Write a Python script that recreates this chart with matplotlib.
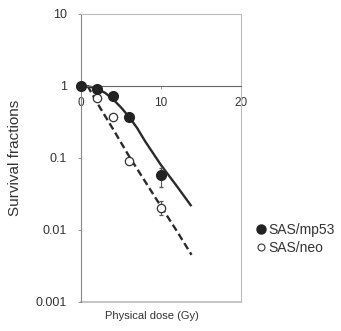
import numpy as np
import matplotlib
matplotlib.use('Agg')
import matplotlib.pyplot as plt
from matplotlib.lines import Line2D

plt.rcParams['font.family'] = ['Liberation Sans', 'DejaVu Sans']

# measured survival fractions
dose_mp53 = [0, 2, 4, 6, 10]
sf_mp53 = [1.0, 0.90, 0.73, 0.37, 0.057]
err_lo_mp53 = [0.0, 0.0, 0.0, 0.0, 0.017]
err_hi_mp53 = [0.0, 0.0, 0.0, 0.0, 0.015]

dose_neo = [0, 2, 4, 6, 10]
sf_neo = [1.0, 0.67, 0.37, 0.090, 0.020]
err_lo_neo = [0.0, 0.03, 0.02, 0.0, 0.004]
err_hi_neo = [0.0, 0.03, 0.02, 0.0, 0.005]

# fitted curves
fit_dose_mp53 = [0, 1, 2, 3, 4, 5, 6, 7, 8, 10, 12, 13.7]
fit_sf_mp53 = [1.0, 0.98, 0.91, 0.80, 0.65, 0.50, 0.37, 0.26, 0.17, 0.079, 0.040, 0.022]

fit_dose_neo = [0.8, 2, 4, 6, 8, 10, 12, 13.8]
fit_sf_neo = [1.0, 0.58, 0.25, 0.105, 0.047, 0.021, 0.0095, 0.0045]

fig = plt.figure(figsize=(3.41, 3.31), dpi=100)
ax = fig.add_axes([0.238, 0.088, 0.469, 0.870])

ax.plot(fit_dose_mp53, fit_sf_mp53, color='#2a2a2a', lw=1.7)
ax.plot(fit_dose_neo, fit_sf_neo, color='#2a2a2a', lw=1.7, ls=(0, (3, 1.6)))

ax.errorbar(dose_neo, sf_neo, yerr=[err_lo_neo, err_hi_neo], fmt='o', ms=6,
            mfc='white', mec='#333333', mew=0.9, ecolor='#555555', elinewidth=0.8,
            capsize=1.5, zorder=3, clip_on=False)
ax.errorbar(dose_mp53, sf_mp53, yerr=[err_lo_mp53, err_hi_mp53], fmt='o', ms=7,
            mfc='#222222', mec='#222222', ecolor='#555555', elinewidth=0.8,
            capsize=1.5, zorder=4, clip_on=False)

ax.set_yscale('log')
ax.set_ylim(0.001, 10)
ax.set_xlim(0, 20)
ax.set_yticks([0.001, 0.01, 0.1, 1, 10])
ax.set_yticklabels(['0.001', '0.01', '0.1', '1', '10'])
ax.minorticks_off()
ax.set_xticks([0, 10, 20])
ax.set_xticklabels(['0', '10', '20'])

# x axis crosses at survival fraction 1
ax.spines['bottom'].set_position(('data', 1))
ax.spines['bottom'].set_color('#666666')
ax.spines['left'].set_color('#888888')
ax.spines['top'].set_color('#bbbbbb')
ax.spines['right'].set_color('#bbbbbb')
for s in ax.spines.values():
    s.set_linewidth(0.8)
ax.axhline(0.001, color='#bbbbbb', lw=1.2, clip_on=False, zorder=1)

ax.tick_params(axis='both', labelsize=9, length=2, width=0.6, color='#888888',
               labelcolor='#333333')
ax.tick_params(axis='y', pad=8)
ax.tick_params(axis='x', pad=6, labelsize=8.5)

ax.set_ylabel('Survival fractions', fontsize=11, color='#333333', labelpad=10)
fig.text(0.446, 0.045, 'Physical dose (Gy)', fontsize=8, color='#333333',
         ha='center', va='center')

handles = [Line2D([], [], ls='none', marker='o', ms=6.5, mfc='#222222', mec='#222222'),
           Line2D([], [], ls='none', marker='o', ms=5, mfc='white', mec='#333333', mew=0.8)]
leg = fig.legend(handles, ['SAS/mp53', 'SAS/neo'], loc='center left',
                 bbox_to_anchor=(0.745, 0.278), frameon=False, fontsize=10,
                 handletextpad=0.0, handlelength=1.0, labelspacing=0.3,
                 borderaxespad=0, borderpad=0)
for t in leg.get_texts():
    t.set_color('#333333')

fig.savefig('out.png', dpi=100)
